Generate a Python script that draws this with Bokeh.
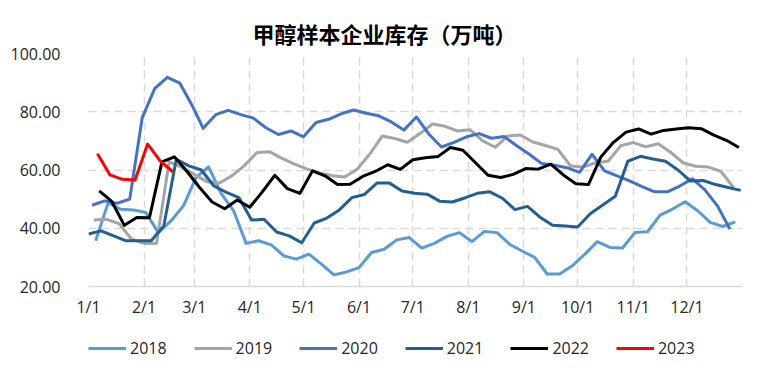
import pandas as pd
from datetime import date
from bokeh.plotting import figure
from bokeh.layouts import column
from bokeh.models import Range1d, FixedTicker, NumeralTickFormatter, Legend, LegendItem
from bokeh.embed import file_html
from bokeh.resources import INLINE

title_text = "甲醇样本企业库存（万吨）"
month_labels = ["1/1", "2/1", "3/1", "4/1", "5/1", "6/1", "7/1", "8/1", "9/1", "10/1", "11/1", "12/1"]
y_ticks = [20, 40, 60, 80, 100]

years = ["2018", "2019", "2020", "2021", "2022", "2023"]
first_report = ["2018-01-05", "2019-01-04", "2020-01-03", "2021-01-01", "2022-01-07", "2023-01-06"]
colors = ["#5B9BD5", "#A5A5A5", "#4472C4", "#255E91", "#000000", "#FF0000"]

v2018 = [35.7, 48.8, 46.5, 46.3, 45.4, 38.5, 42.5, 47.7, 57.4, 61.1,
         52.0, 46.0, 34.8, 35.7, 34.3, 30.5, 29.4, 31.1, 27.7, 24.0,
         25.0, 26.5, 31.7, 32.8, 36.0, 36.8, 33.2, 34.8, 37.2, 38.5,
         35.4, 38.9, 38.5, 34.5, 32.2, 30.0, 24.3, 24.3, 27.1, 31.1,
         35.4, 33.4, 33.2, 38.5, 38.8, 44.5, 46.6, 49.1, 46.0, 42.0,
         40.6, 42.2]
v2019 = [42.8, 43.1, 41.6, 36.3, 34.8, 34.8, 62.8, 61.0, 58.5, 56.0,
         55.5, 58.0, 61.5, 66.0, 66.3, 64.0, 62.0, 60.3, 59.0, 58.0,
         57.6, 60.3, 65.5, 71.7, 70.8, 69.5, 72.5, 75.8, 75.0, 73.4,
         73.8, 70.0, 67.8, 71.7, 72.0, 69.6, 68.4, 67.1, 61.4, 61.0,
         62.5, 63.0, 68.3, 69.4, 68.0, 69.0, 66.0, 62.4, 61.3, 61.0,
         59.5, 54.0]
v2020 = [47.9, 49.4, 48.6, 50.0, 78.0, 88.0, 91.8, 89.8, 82.0, 74.3,
         79.0, 80.5, 79.0, 77.8, 74.5, 72.2, 73.4, 71.4, 76.3, 77.4,
         79.3, 80.6, 79.5, 78.6, 76.5, 73.7, 78.2, 72.3, 67.9, 69.5,
         71.4, 72.5, 70.9, 71.5, 68.3, 65.4, 62.2, 61.6, 60.8, 59.2,
         65.4, 59.7, 58.0, 56.3, 54.3, 52.5, 52.5, 54.5, 57.0, 53.2,
         47.7, 39.7]
v2021 = [38.0, 39.1, 37.4, 35.7, 35.7, 35.7, 40.8, 63.7, 61.4, 60.0,
         54.5, 52.3, 50.5, 42.8, 43.1, 38.7, 37.4, 35.0, 41.8, 43.5,
         46.3, 50.5, 51.6, 55.5, 55.5, 52.8, 52.0, 51.7, 49.3, 49.0,
         50.4, 52.0, 52.5, 50.3, 46.4, 47.5, 43.8, 41.0, 40.8, 40.4,
         45.0, 48.0, 51.0, 63.0, 64.7, 63.8, 63.0, 60.0, 56.2, 56.4,
         55.0, 54.0, 53.0]
v2022 = [52.8, 49.2, 41.0, 43.7, 43.6, 62.8, 64.5, 59.5, 54.0, 49.0,
         46.7, 49.7, 47.2, 52.5, 58.2, 53.6, 52.0, 59.7, 58.0, 55.0,
         55.1, 57.8, 59.5, 61.8, 60.2, 63.5, 64.2, 64.6, 67.7, 66.8,
         62.5, 58.2, 57.4, 58.5, 60.5, 60.3, 62.0, 58.3, 55.3, 55.0,
         64.5, 69.5, 73.0, 74.1, 72.3, 73.6, 74.1, 74.5, 74.2, 72.0,
         70.2, 67.7]
v2023 = [65.6, 58.3, 56.8, 56.6, 68.9, 63.1, 59.4]
series_values = [v2018, v2019, v2020, v2021, v2022, v2023]


def day_of_year(ts):
    # month/day placed on one common (non-leap) year axis
    return (date(2021, ts.month, ts.day) - date(2021, 1, 1)).days


month_days = [(date(2021, m, 1) - date(2021, 1, 1)).days for m in range(1, 13)] + [365]

p = figure(width=766, height=330, output_backend="svg", toolbar_location=None,
           x_range=Range1d(0, 365), y_range=Range1d(20, 100),
           min_border_left=88, min_border_right=24, min_border_top=53, min_border_bottom=44,
           title=title_text)
p.outline_line_color = None
p.background_fill_color = "white"
p.border_fill_color = "white"

p.title.align = "left"
p.title.offset = 164
p.title.text_font = "Noto Sans CJK SC"
p.title.text_font_size = "22px"
p.title.text_font_style = "bold"
p.title.text_color = "#000000"

# axes
p.xaxis.ticker = FixedTicker(ticks=month_days)
overrides = {d: lab for d, lab in zip(month_days, month_labels)}
overrides[365] = ""
p.xaxis.major_label_overrides = overrides
p.xaxis.axis_line_color = "#D9D9D9"
p.xaxis.axis_line_width = 1.5
p.xaxis.major_tick_line_color = None
p.xaxis.minor_tick_line_color = None
p.xaxis.major_label_standoff = 3
p.xaxis.major_label_text_font = "Open Sans"
p.xaxis.major_label_text_font_size = "16px"
p.xaxis.major_label_text_color = "#262626"

p.yaxis.ticker = FixedTicker(ticks=y_ticks)
p.yaxis.formatter = NumeralTickFormatter(format="0.00")
p.yaxis.axis_line_color = None
p.yaxis.major_tick_line_color = None
p.yaxis.minor_tick_line_color = None
p.yaxis.major_label_standoff = 22
p.yaxis.major_label_text_font = "Open Sans"
p.yaxis.major_label_text_font_size = "16px"
p.yaxis.major_label_text_color = "#262626"

for g in (p.xgrid, p.ygrid):
    g.grid_line_color = "#D9D9D9"
    g.grid_line_width = 1.5
    g.grid_line_dash = "8 5"
p.xgrid.ticker = FixedTicker(ticks=month_days)
p.ygrid.ticker = FixedTicker(ticks=y_ticks)

series_xy = []
for start, col, vals in zip(first_report, colors, series_values):
    dates = pd.date_range(start=start, periods=len(vals), freq="7D")
    xs = [day_of_year(d) for d in dates]
    series_xy.append((xs, vals))
    p.line(xs, vals, line_color=col, line_width=3, line_join="round")

# legend strip below the chart: the same series (outside this strip's
# visible range, so only their legend keys show)
pl = figure(width=766, height=48, output_backend="svg", toolbar_location=None,
            x_range=Range1d(0, 1), y_range=Range1d(0, 1),
            x_axis_location=None, y_axis_location=None,
            min_border_left=0, min_border_right=0, min_border_top=0, min_border_bottom=0)
pl.outline_line_color = None
pl.grid.visible = False
items = []
for yr, col, (xs, vals) in zip(years, colors, series_xy):
    sw = pl.line(xs, vals, line_color=col, line_width=3)
    items.append(LegendItem(label=yr, renderers=[sw]))

legend = Legend(items=items, location=(0, 19), orientation="horizontal",
                glyph_width=38, glyph_height=22, label_height=22, label_standoff=4,
                spacing=27, padding=0, margin=0, border_line_color=None,
                background_fill_alpha=0, label_text_font="Open Sans",
                label_text_font_size="16px", label_text_color="#262626")
pl.add_layout(legend)

layout = column(p, pl, spacing=0)
open("out.html", "w").write(file_html(layout, INLINE))
